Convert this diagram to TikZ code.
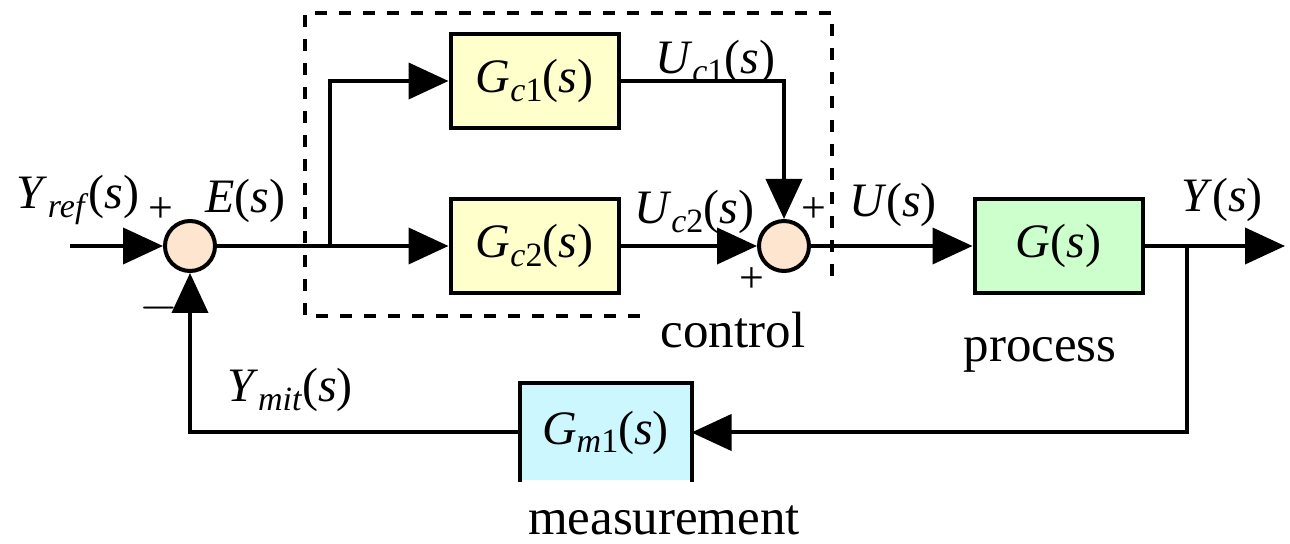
\documentclass[tikz,border=0pt]{standalone}
\usepackage{fontspec}
\setmainfont{Liberation Serif}
\usetikzlibrary{arrows.meta}

\definecolor{sumfill}{HTML}{FDE5CF}
\definecolor{ctrlfill}{HTML}{FFFFCC}
\definecolor{procfill}{HTML}{CCFFCC}
\definecolor{measfill}{HTML}{CCF7FF}

% lowered index and the (s) argument of a transfer function
\newcommand\lsub[1]{\raisebox{-0.4ex}{\fontsize{17}{17}\selectfont #1}}
\newcommand\ofs{(\textit{s})}

\begin{document}
\begin{tikzpicture}[x=0.5pt,y=-0.5pt,line width=2pt,
  sig/.style={-{Triangle[length=20pt,width=18pt]}},
  blk/.style={draw,line width=2pt,minimum width=84pt,minimum height=47pt,inner sep=0pt,
              font=\fontsize{24}{28}\selectfont},
  sumj/.style={circle,draw,line width=2pt,fill=sumfill,minimum size=25pt,inner sep=0pt},
  lbl/.style={font=\fontsize{24}{28}\selectfont,inner sep=0pt},
  sgn/.style={font=\fontsize{22}{26}\selectfont,inner sep=0pt},
  word/.style={font=\fontsize{25.5}{30}\selectfont,inner sep=0pt}]

\useasboundingbox (0,0) rectangle (1290,544);

% dashed frame of the control station
\draw[line width=1.6pt,dash pattern=on 6pt off 6pt]
  (640,316) -- (305,316) -- (305,13) -- (832,13) -- (832,283);

% summing junctions
\node[sumj] (s1) at (190,246) {};
\node[sumj] (s2) at (784,246) {};

% blocks
\node[blk,fill=ctrlfill] (gc1) at (534.5,81) {\textit{G}\lsub{\textit{c}1}\ofs};
\node[blk,fill=ctrlfill] (gc2) at (534.5,246) {\textit{G}\lsub{\textit{c}2}\ofs};
\node[blk,fill=procfill] (gp) at (1058.5,246) {\textit{G}\ofs};
\node[blk,draw=none,fill=measfill,minimum height=47.5pt] (gm) at (605.5,432.5)
  {\textit{G}\lsub{\textit{m}1}\ofs};
\draw[line width=2pt] (gm.south west) -- (gm.north west) -- (gm.north east) -- (gm.south east);

% branch points and free ends
\coordinate (in) at (70,246);
\coordinate (br) at (330,246);
\coordinate (fb) at (1187,246);
\coordinate (out) at (1285,246);

% signal lines
\draw[sig] (in) -- (s1.west);
\draw[sig] (s1.east) -- (gc2.west);
\draw[sig] (br) |- (gc1.west);
\draw[sig] (gc1.east) -| (s2.north);
\draw[sig] (gc2.east) -- (s2.west);
\draw[sig] (s2.east) -- (gp.west);
\draw[sig] (gp.east) -- (out);
\draw[sig] (fb) |- (gm.east);
\draw[sig] (gm.west) -| (s1.south);

% signal labels
\node[lbl] (lyref) at (78,200) {\textit{Y}\lsub{\textit{ref}}\ofs};
\node[lbl] (le) at (245,201) {\textit{E}\ofs};
\node[lbl] (luc1) at (715,62) {\textit{U}\lsub{\textit{c}1}\ofs};
\node[lbl] (luc2) at (694,212) {\textit{U}\lsub{\textit{c}2}\ofs};
\node[lbl] (lu) at (893,205) {\textit{U}\ofs};
\node[lbl] (ly) at (1222,200) {\textit{Y}\ofs};
\node[lbl] (lymit) at (290,390) {\textit{Y}\lsub{\textit{mit}}\ofs};

% signs at the junctions
\node[sgn] (p1) at (161,210) {+};
\node[sgn] (m1) at (159,308) {\fontsize{24}{28}\selectfont $-$};
\node[sgn] (p2) at (814,210) {+};
\node[sgn] (p3) at (752,280) {+};

% block captions
\node[word] (tctrl) at (733,330) {control};
\node[word] (tproc) at (1040,355) {process};
\node[word] (tmeas) at (664,520) {measurement};
\end{tikzpicture}
\end{document}
